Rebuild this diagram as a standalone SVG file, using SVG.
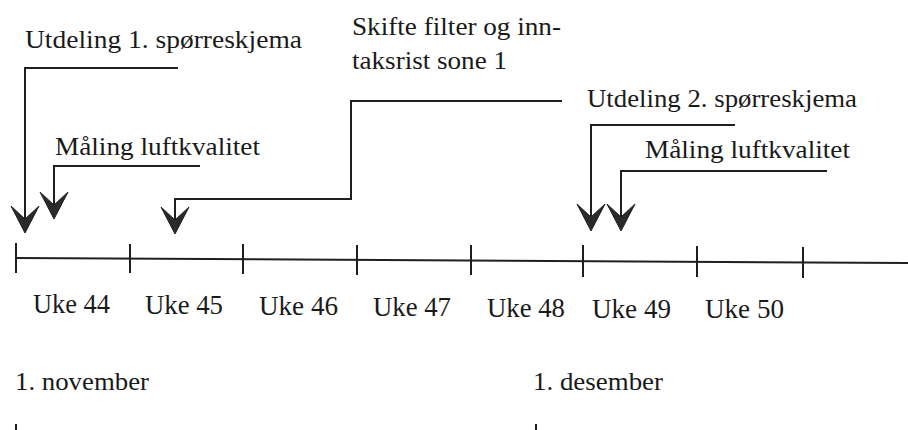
<svg xmlns="http://www.w3.org/2000/svg" xmlns:xlink="http://www.w3.org/1999/xlink" width="908" height="430" viewBox="0 0 908 430">
<style>
text{fill:#1a1a1a;font-family:'Times New Roman','Liberation Serif','DejaVu Serif',serif}
.c{fill:none;stroke:#1f1f1f;stroke-width:2}
.k{stroke:#1f1f1f;stroke-width:2}
.ah{fill:#2a2a2a;stroke:#1f1f1f;stroke-width:1;stroke-linejoin:miter}
</style>
<defs>
<path id="ahp" class="ah" d="M-14,-27 L0,0 L14,-27 L0,-14 Z"/>
</defs>
<rect width="908" height="430" fill="#ffffff"/>
<g id="connectors">
<path class="c" d="M178,68 H25 V226"/>
<use xlink:href="#ahp" href="#ahp" x="25" y="233"/>
<path class="c" d="M200,166 H54 V212"/>
<use xlink:href="#ahp" href="#ahp" x="54" y="219"/>
<path class="c" d="M562,101 H351 V199 H175 V227"/>
<use xlink:href="#ahp" href="#ahp" x="175" y="234"/>
<path class="c" d="M735,125 H591 V224"/>
<use xlink:href="#ahp" href="#ahp" x="591" y="231"/>
<path class="c" d="M827,171 H621 V224"/>
<use xlink:href="#ahp" href="#ahp" x="621" y="231"/>
</g>
<g id="timeline">
<path class="c" d="M16,258 L908,263"/>
<line class="k" x1="16" y1="243" x2="16" y2="273"/>
<line class="k" x1="130" y1="244" x2="130" y2="273"/>
<line class="k" x1="243" y1="244" x2="243" y2="274"/>
<line class="k" x1="357" y1="245" x2="357" y2="275"/>
<line class="k" x1="471" y1="245" x2="471" y2="275"/>
<line class="k" x1="583" y1="245" x2="583" y2="277"/>
<line class="k" x1="697" y1="246" x2="697" y2="277"/>
<line class="k" x1="803" y1="247" x2="803" y2="278"/>
</g>
<g id="weeks" font-size="27">
<text x="33" y="313" textLength="77" lengthAdjust="spacingAndGlyphs">Uke 44</text>
<text x="145" y="314" textLength="78" lengthAdjust="spacingAndGlyphs">Uke 45</text>
<text x="259" y="315" textLength="79" lengthAdjust="spacingAndGlyphs">Uke 46</text>
<text x="373" y="316" textLength="78" lengthAdjust="spacingAndGlyphs">Uke 47</text>
<text x="487" y="317" textLength="78" lengthAdjust="spacingAndGlyphs">Uke 48</text>
<text x="592" y="318" textLength="79" lengthAdjust="spacingAndGlyphs">Uke 49</text>
<text x="705" y="318" textLength="79" lengthAdjust="spacingAndGlyphs">Uke 50</text>
</g>
<g id="months" font-size="25">
<text x="15" y="390" textLength="134" lengthAdjust="spacingAndGlyphs">1. november</text>
<text x="533" y="390" textLength="130" lengthAdjust="spacingAndGlyphs">1. desember</text>
<line class="k" x1="16" y1="424" x2="16" y2="430"/>
<line class="k" x1="536" y1="424" x2="536" y2="430"/>
</g>
<g id="node-utdeling1" font-size="25">
<text x="25" y="48" textLength="277" lengthAdjust="spacingAndGlyphs">Utdeling 1. spørreskjema</text>
</g>
<g id="node-maaling1" font-size="25">
<text x="55" y="155" textLength="205" lengthAdjust="spacingAndGlyphs">Måling luftkvalitet</text>
</g>
<g id="node-skifte" font-size="25">
<text x="352" y="35" textLength="209" lengthAdjust="spacingAndGlyphs">Skifte filter og inn-</text>
<text x="352" y="69" textLength="155" lengthAdjust="spacingAndGlyphs">taksrist sone 1</text>
</g>
<g id="node-utdeling2" font-size="25">
<text x="587" y="107" textLength="270" lengthAdjust="spacingAndGlyphs">Utdeling 2. spørreskjema</text>
</g>
<g id="node-maaling2" font-size="25">
<text x="645" y="158" textLength="205" lengthAdjust="spacingAndGlyphs">Måling luftkvalitet</text>
</g>
</svg>
